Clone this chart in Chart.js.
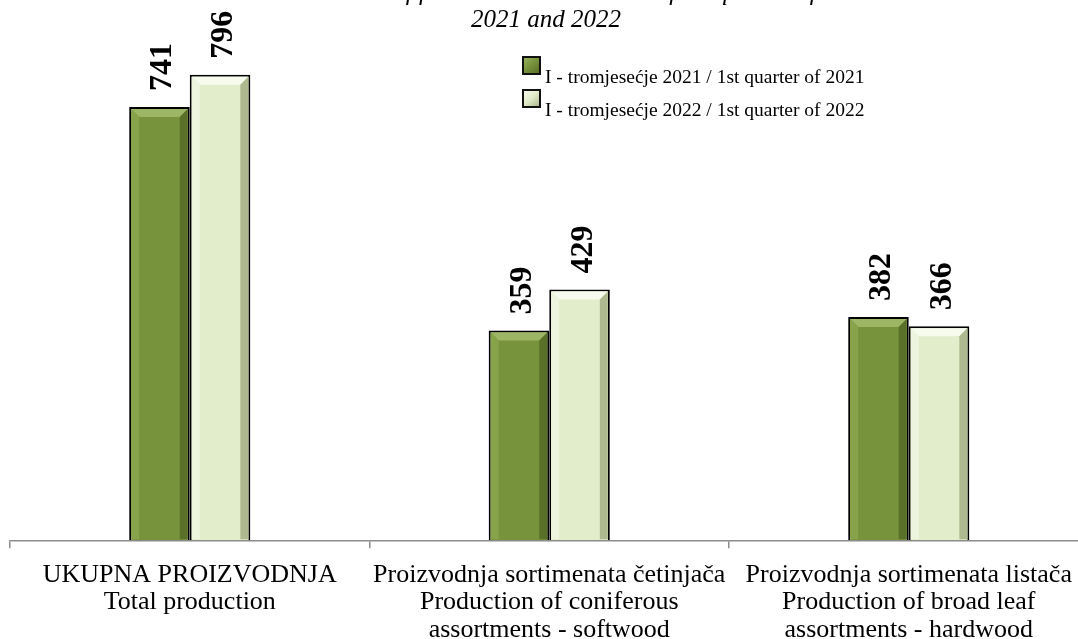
<!DOCTYPE html>
<html>
<head>
<meta charset="utf-8">
<script src="https://cdn.jsdelivr.net/npm/chart.js@4.4.0/dist/chart.umd.min.js"></script>
<style>
  html, body { margin: 0; padding: 0; background: #fff; overflow: hidden; width: 1078px; height: 639px; }
  #wrap { position: absolute; left: 0; top: 0; width: 1100px; height: 657px; }
</style>
</head>
<body>
<div id="wrap"><canvas id="c" width="1100" height="657"></canvas></div>
<script>
// ---- data ----
const categories = [
  ["UKUPNA PROIZVODNJA", "Total production"],
  ["Proizvodnja sortimenata četinjača", "Production of coniferous", "assortments - softwood"],
  ["Proizvodnja sortimenata listača", "Production of broad leaf", "assortments - hardwood"]
];
const seriesNames = [
  "I - tromjesećje 2021 / 1st quarter of 2021",
  "I - tromjesećje 2022 / 1st quarter of 2022"
];
const values2021 = [741, 359, 382];
const values2022 = [796, 429, 366];
const titleLines = [
  "Production of forest assortments in the first quarter of",
  "2021 and 2022"
];

const palette = [
  { fill: '#77933C', top: '#9DB665', left: '#88A44B', right: '#5A7028' },
  { fill: '#E2EDCB', top: '#F7FBEE', left: '#EEF5DF', right: '#AEB98F' }
];

const bevelPlugin = {
  id: 'bevel',
  afterDatasetsDraw(chart) {
    const ctx = chart.ctx;
    chart.data.datasets.forEach((ds, di) => {
      const meta = chart.getDatasetMeta(di);
      const p = palette[di];
      meta.data.forEach(bar => {
        const bw = 2;
        const l = bar.x - bar.width / 2 + bw, r = bar.x + bar.width / 2 - bw;
        const t = bar.y + bw, b = bar.base - 1;
        const k = 8;
        ctx.save();
        ctx.fillStyle = p.top;
        ctx.beginPath(); ctx.moveTo(l, t); ctx.lineTo(r, t); ctx.lineTo(r - k, t + k); ctx.lineTo(l + k, t + k); ctx.closePath(); ctx.fill();
        ctx.fillStyle = p.left;
        ctx.beginPath(); ctx.moveTo(l, t); ctx.lineTo(l + k, t + k); ctx.lineTo(l + k, b); ctx.lineTo(l, b); ctx.closePath(); ctx.fill();
        ctx.fillStyle = p.right;
        ctx.beginPath(); ctx.moveTo(r, t); ctx.lineTo(r - k, t + k); ctx.lineTo(r - k, b); ctx.lineTo(r, b); ctx.closePath(); ctx.fill();
        ctx.restore();
      });
    });
  }
};

const labelPlugin = {
  id: 'vlabels',
  afterDatasetsDraw(chart) {
    const ctx = chart.ctx;
    chart.data.datasets.forEach((ds, di) => {
      const meta = chart.getDatasetMeta(di);
      meta.data.forEach((bar, i) => {
        ctx.save();
        ctx.translate(bar.x + 12, bar.y - 16);
        ctx.rotate(-Math.PI / 2);
        ctx.font = 'bold 32px "Liberation Serif"';
        ctx.fillStyle = '#000';
        ctx.textAlign = 'left';
        ctx.textBaseline = 'alphabetic';
        ctx.fillText(String(ds.data[i]), 0, 0);
        ctx.restore();
      });
    });
  }
};

const titleLegendPlugin = {
  id: 'titleLegend',
  afterDraw(chart) {
    const ctx = chart.ctx;
    ctx.save();
    ctx.fillStyle = '#000';
    ctx.font = 'italic 25px "Liberation Serif"';
    ctx.textAlign = 'center';
    ctx.textBaseline = 'alphabetic';
    ctx.fillText(titleLines[0], 546, 0);
    ctx.fillText(titleLines[1], 546, 27);
    // legend
    ctx.font = '19.5px "Liberation Serif"';
    ctx.textAlign = 'left';
    seriesNames.forEach((name, i) => {
      const y0 = 56 + i * 33;
      const p = palette[i];
      ctx.fillStyle = '#111';
      ctx.fillRect(522, y0, 19, 19);
      const g = ctx.createLinearGradient(524, y0, 539, y0 + 17);
      g.addColorStop(0, p.top); g.addColorStop(0.5, p.fill); g.addColorStop(1, p.right);
      ctx.fillStyle = g;
      ctx.fillRect(524, y0 + 2, 15, 15);
      ctx.fillStyle = '#000';
      ctx.fillText(name, 545, y0 + 27);
    });
    ctx.restore();
  }
};

new Chart(document.getElementById('c'), {
  type: 'bar',
  data: {
    labels: categories,
    datasets: [
      { label: seriesNames[0], data: values2021, backgroundColor: palette[0].fill, borderColor: '#000', borderWidth: 2 },
      { label: seriesNames[1], data: values2022, backgroundColor: palette[1].fill, borderColor: '#000', borderWidth: 2 }
    ]
  },
  options: {
    responsive: false,
    animation: false,
    devicePixelRatio: 1,
    layout: { padding: { top: 14, left: 10, right: 11.5, bottom: 0 } },
    datasets: { bar: { barPercentage: 1.0, categoryPercentage: 0.337 } },
    plugins: { legend: { display: false }, title: { display: false }, tooltip: { enabled: false } },
    scales: {
      y: { display: false, min: 0, max: 900 },
      x: {
        grid: { display: true, drawOnChartArea: false, drawTicks: true, tickLength: 8, color: '#8c8c8c', lineWidth: 1.5, offset: true },
        border: { display: true, color: '#8c8c8c', width: 1.5 },
        ticks: { color: '#000', padding: 13, maxRotation: 0, autoSkip: false, font: { family: '"Liberation Serif"', size: 26, lineHeight: 1.06 } }
      }
    }
  },
  plugins: [bevelPlugin, labelPlugin, titleLegendPlugin]
});
</script>
</body>
</html>
